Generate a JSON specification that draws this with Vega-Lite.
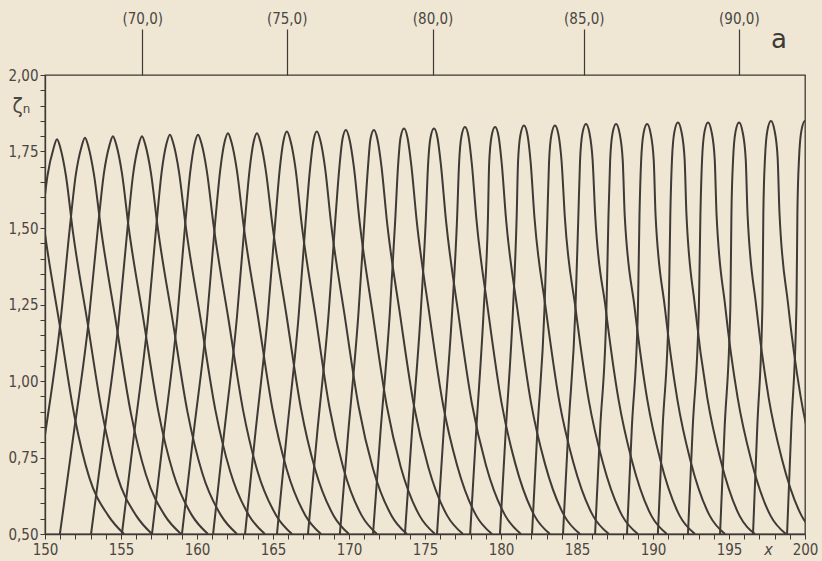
{
"$schema": "https://vega.github.io/schema/vega-lite/v6.json",
"width": 760, "height": 459,
"autosize": {"type": "none"},
"padding": {"left": 45, "top": 75, "right": 17, "bottom": 27},
"background": "#efe6d4",
"config": {"view": {"stroke": "#3d3935", "strokeWidth": 1.3}, "font": "DejaVu Sans Condensed"},
"datasets": {
"curves": [
{"c":0,"x":147.88,"y":1.485},{"c":0,"x":148.31,"y":1.665},{"c":0,"x":148.72,"y":1.755},{"c":0,"x":148.95,"y":1.785},{"c":0,"x":149.18,"y":1.755},{"c":0,"x":149.54,"y":1.665},{"c":0,"x":149.99,"y":1.485},{"c":0,"x":150.96,"y":1.185},{"c":0,"x":151.94,"y":0.885},{"c":0,"x":152.91,"y":0.685},{"c":0,"x":154.16,"y":0.56},{"c":0,"x":155.2,"y":0.5},
{"c":1,"x":147.11,"y":0.5},{"c":1,"x":147.98,"y":0.79},{"c":1,"x":149.12,"y":1.19},{"c":1,"x":149.74,"y":1.49},{"c":1,"x":150.16,"y":1.67},{"c":1,"x":150.56,"y":1.76},{"c":1,"x":150.79,"y":1.79},{"c":1,"x":151.02,"y":1.76},{"c":1,"x":151.38,"y":1.67},{"c":1,"x":151.83,"y":1.49},{"c":1,"x":152.8,"y":1.19},{"c":1,"x":153.78,"y":0.89},{"c":1,"x":154.75,"y":0.69},{"c":1,"x":156.0,"y":0.56},{"c":1,"x":157.04,"y":0.5},
{"c":2,"x":149.08,"y":0.5},{"c":2,"x":149.92,"y":0.795},{"c":2,"x":151.02,"y":1.195},{"c":2,"x":151.62,"y":1.495},{"c":2,"x":152.03,"y":1.675},{"c":2,"x":152.4,"y":1.765},{"c":2,"x":152.63,"y":1.795},{"c":2,"x":152.86,"y":1.765},{"c":2,"x":153.22,"y":1.675},{"c":2,"x":153.69,"y":1.495},{"c":2,"x":154.66,"y":1.195},{"c":2,"x":155.65,"y":0.895},{"c":2,"x":156.63,"y":0.695},{"c":2,"x":157.89,"y":0.56},{"c":2,"x":158.95,"y":0.5},
{"c":3,"x":150.98,"y":0.5},{"c":3,"x":151.81,"y":0.8},{"c":3,"x":152.88,"y":1.2},{"c":3,"x":153.48,"y":1.5},{"c":3,"x":153.88,"y":1.68},{"c":3,"x":154.24,"y":1.77},{"c":3,"x":154.47,"y":1.8},{"c":3,"x":154.7,"y":1.77},{"c":3,"x":155.06,"y":1.68},{"c":3,"x":155.51,"y":1.5},{"c":3,"x":156.48,"y":1.2},{"c":3,"x":157.46,"y":0.9},{"c":3,"x":158.43,"y":0.7},{"c":3,"x":159.68,"y":0.56},{"c":3,"x":160.72,"y":0.5},
{"c":4,"x":153.03,"y":0.5},{"c":4,"x":153.82,"y":0.8},{"c":4,"x":154.86,"y":1.2},{"c":4,"x":155.43,"y":1.5},{"c":4,"x":155.81,"y":1.68},{"c":4,"x":156.15,"y":1.77},{"c":4,"x":156.38,"y":1.8},{"c":4,"x":156.61,"y":1.77},{"c":4,"x":156.97,"y":1.68},{"c":4,"x":157.42,"y":1.5},{"c":4,"x":158.39,"y":1.2},{"c":4,"x":159.37,"y":0.9},{"c":4,"x":160.34,"y":0.7},{"c":4,"x":161.59,"y":0.56},{"c":4,"x":162.63,"y":0.5},
{"c":5,"x":155.06,"y":0.5},{"c":5,"x":155.81,"y":0.805},{"c":5,"x":156.78,"y":1.205},{"c":5,"x":157.32,"y":1.505},{"c":5,"x":157.68,"y":1.685},{"c":5,"x":157.99,"y":1.775},{"c":5,"x":158.22,"y":1.805},{"c":5,"x":158.45,"y":1.775},{"c":5,"x":158.81,"y":1.685},{"c":5,"x":159.26,"y":1.505},{"c":5,"x":160.23,"y":1.205},{"c":5,"x":161.21,"y":0.905},{"c":5,"x":162.18,"y":0.705},{"c":5,"x":163.43,"y":0.56},{"c":5,"x":164.47,"y":0.5},
{"c":6,"x":157.04,"y":0.5},{"c":6,"x":157.76,"y":0.805},{"c":6,"x":158.7,"y":1.205},{"c":6,"x":159.21,"y":1.505},{"c":6,"x":159.56,"y":1.685},{"c":6,"x":159.84,"y":1.775},{"c":6,"x":160.07,"y":1.805},{"c":6,"x":160.3,"y":1.775},{"c":6,"x":160.65,"y":1.685},{"c":6,"x":161.1,"y":1.505},{"c":6,"x":162.06,"y":1.205},{"c":6,"x":163.03,"y":0.905},{"c":6,"x":163.98,"y":0.705},{"c":6,"x":165.22,"y":0.56},{"c":6,"x":166.25,"y":0.5},
{"c":7,"x":159.01,"y":0.5},{"c":7,"x":159.73,"y":0.81},{"c":7,"x":160.67,"y":1.21},{"c":7,"x":161.18,"y":1.51},{"c":7,"x":161.53,"y":1.69},{"c":7,"x":161.81,"y":1.78},{"c":7,"x":162.04,"y":1.81},{"c":7,"x":162.27,"y":1.78},{"c":7,"x":162.62,"y":1.69},{"c":7,"x":163.06,"y":1.51},{"c":7,"x":164.01,"y":1.21},{"c":7,"x":164.96,"y":0.91},{"c":7,"x":165.91,"y":0.71},{"c":7,"x":167.14,"y":0.56},{"c":7,"x":168.16,"y":0.5},
{"c":8,"x":161.06,"y":0.5},{"c":8,"x":161.74,"y":0.81},{"c":8,"x":162.63,"y":1.21},{"c":8,"x":163.13,"y":1.51},{"c":8,"x":163.46,"y":1.69},{"c":8,"x":163.72,"y":1.78},{"c":8,"x":163.95,"y":1.81},{"c":8,"x":164.18,"y":1.78},{"c":8,"x":164.52,"y":1.69},{"c":8,"x":164.96,"y":1.51},{"c":8,"x":165.9,"y":1.21},{"c":8,"x":166.84,"y":0.91},{"c":8,"x":167.78,"y":0.71},{"c":8,"x":168.99,"y":0.56},{"c":8,"x":170.0,"y":0.5},
{"c":9,"x":163.16,"y":0.5},{"c":9,"x":163.81,"y":0.815},{"c":9,"x":164.66,"y":1.215},{"c":9,"x":165.14,"y":1.515},{"c":9,"x":165.45,"y":1.695},{"c":9,"x":165.69,"y":1.785},{"c":9,"x":165.92,"y":1.815},{"c":9,"x":166.15,"y":1.785},{"c":9,"x":166.48,"y":1.695},{"c":9,"x":166.88,"y":1.515},{"c":9,"x":167.79,"y":1.215},{"c":9,"x":168.71,"y":0.915},{"c":9,"x":169.63,"y":0.715},{"c":9,"x":170.84,"y":0.56},{"c":9,"x":171.84,"y":0.5},
{"c":10,"x":165.26,"y":0.5},{"c":10,"x":165.88,"y":0.815},{"c":10,"x":166.69,"y":1.215},{"c":10,"x":167.14,"y":1.515},{"c":10,"x":167.44,"y":1.695},{"c":10,"x":167.66,"y":1.785},{"c":10,"x":167.89,"y":1.815},{"c":10,"x":168.12,"y":1.785},{"c":10,"x":168.43,"y":1.695},{"c":10,"x":168.82,"y":1.515},{"c":10,"x":169.71,"y":1.215},{"c":10,"x":170.64,"y":0.915},{"c":10,"x":171.57,"y":0.715},{"c":10,"x":172.8,"y":0.56},{"c":10,"x":173.81,"y":0.5},
{"c":11,"x":167.3,"y":0.5},{"c":11,"x":167.89,"y":0.82},{"c":11,"x":168.66,"y":1.22},{"c":11,"x":169.09,"y":1.52},{"c":11,"x":169.37,"y":1.7},{"c":11,"x":169.57,"y":1.79},{"c":11,"x":169.8,"y":1.82},{"c":11,"x":170.03,"y":1.79},{"c":11,"x":170.32,"y":1.7},{"c":11,"x":170.7,"y":1.52},{"c":11,"x":171.56,"y":1.22},{"c":11,"x":172.48,"y":0.92},{"c":11,"x":173.4,"y":0.72},{"c":11,"x":174.64,"y":0.56},{"c":11,"x":175.66,"y":0.5},
{"c":12,"x":169.4,"y":0.5},{"c":12,"x":169.93,"y":0.82},{"c":12,"x":170.62,"y":1.22},{"c":12,"x":171.01,"y":1.52},{"c":12,"x":171.25,"y":1.7},{"c":12,"x":171.41,"y":1.79},{"c":12,"x":171.64,"y":1.82},{"c":12,"x":171.87,"y":1.79},{"c":12,"x":172.14,"y":1.7},{"c":12,"x":172.5,"y":1.52},{"c":12,"x":173.35,"y":1.22},{"c":12,"x":174.27,"y":0.92},{"c":12,"x":175.21,"y":0.72},{"c":12,"x":176.46,"y":0.56},{"c":12,"x":177.5,"y":0.5},
{"c":13,"x":171.58,"y":0.5},{"c":13,"x":172.06,"y":0.825},{"c":13,"x":172.69,"y":1.225},{"c":13,"x":173.04,"y":1.525},{"c":13,"x":173.23,"y":1.705},{"c":13,"x":173.39,"y":1.795},{"c":13,"x":173.62,"y":1.825},{"c":13,"x":173.85,"y":1.795},{"c":13,"x":174.1,"y":1.705},{"c":13,"x":174.45,"y":1.525},{"c":13,"x":175.27,"y":1.225},{"c":13,"x":176.18,"y":0.925},{"c":13,"x":177.11,"y":0.725},{"c":13,"x":178.37,"y":0.56},{"c":13,"x":179.41,"y":0.5},
{"c":14,"x":173.68,"y":0.5},{"c":14,"x":174.13,"y":0.825},{"c":14,"x":174.72,"y":1.225},{"c":14,"x":175.05,"y":1.525},{"c":14,"x":175.2,"y":1.705},{"c":14,"x":175.36,"y":1.795},{"c":14,"x":175.59,"y":1.825},{"c":14,"x":175.82,"y":1.795},{"c":14,"x":176.05,"y":1.705},{"c":14,"x":176.38,"y":1.525},{"c":14,"x":177.18,"y":1.225},{"c":14,"x":178.09,"y":0.925},{"c":14,"x":179.01,"y":0.725},{"c":14,"x":180.28,"y":0.56},{"c":14,"x":181.31,"y":0.5},
{"c":15,"x":175.79,"y":0.5},{"c":15,"x":176.22,"y":0.83},{"c":15,"x":176.79,"y":1.23},{"c":15,"x":177.11,"y":1.53},{"c":15,"x":177.24,"y":1.71},{"c":15,"x":177.4,"y":1.8},{"c":15,"x":177.63,"y":1.83},{"c":15,"x":177.86,"y":1.8},{"c":15,"x":178.08,"y":1.71},{"c":15,"x":178.38,"y":1.53},{"c":15,"x":179.15,"y":1.23},{"c":15,"x":180.03,"y":0.93},{"c":15,"x":180.94,"y":0.73},{"c":15,"x":182.2,"y":0.56},{"c":15,"x":183.22,"y":0.5},
{"c":16,"x":177.97,"y":0.5},{"c":16,"x":178.36,"y":0.83},{"c":16,"x":178.86,"y":1.23},{"c":16,"x":179.14,"y":1.53},{"c":16,"x":179.22,"y":1.71},{"c":16,"x":179.38,"y":1.8},{"c":16,"x":179.61,"y":1.83},{"c":16,"x":179.84,"y":1.8},{"c":16,"x":180.05,"y":1.71},{"c":16,"x":180.33,"y":1.53},{"c":16,"x":181.09,"y":1.23},{"c":16,"x":181.97,"y":0.93},{"c":16,"x":182.89,"y":0.73},{"c":16,"x":184.16,"y":0.56},{"c":16,"x":185.2,"y":0.5},
{"c":17,"x":179.93,"y":0.5},{"c":17,"x":180.31,"y":0.835},{"c":17,"x":180.79,"y":1.235},{"c":17,"x":181.03,"y":1.535},{"c":17,"x":181.12,"y":1.715},{"c":17,"x":181.28,"y":1.805},{"c":17,"x":181.51,"y":1.835},{"c":17,"x":181.74,"y":1.805},{"c":17,"x":181.95,"y":1.715},{"c":17,"x":182.2,"y":1.535},{"c":17,"x":182.95,"y":1.235},{"c":17,"x":183.83,"y":0.935},{"c":17,"x":184.75,"y":0.735},{"c":17,"x":186.05,"y":0.56},{"c":17,"x":187.1,"y":0.5},
{"c":18,"x":182.04,"y":0.5},{"c":18,"x":182.39,"y":0.835},{"c":18,"x":182.86,"y":1.235},{"c":18,"x":183.05,"y":1.535},{"c":18,"x":183.16,"y":1.715},{"c":18,"x":183.32,"y":1.805},{"c":18,"x":183.55,"y":1.835},{"c":18,"x":183.78,"y":1.805},{"c":18,"x":183.99,"y":1.715},{"c":18,"x":184.2,"y":1.535},{"c":18,"x":184.91,"y":1.235},{"c":18,"x":185.78,"y":0.935},{"c":18,"x":186.69,"y":0.735},{"c":18,"x":187.97,"y":0.56},{"c":18,"x":189.01,"y":0.5},
{"c":19,"x":184.08,"y":0.5},{"c":19,"x":184.43,"y":0.84},{"c":19,"x":184.9,"y":1.24},{"c":19,"x":185.09,"y":1.54},{"c":19,"x":185.2,"y":1.72},{"c":19,"x":185.36,"y":1.81},{"c":19,"x":185.59,"y":1.84},{"c":19,"x":185.82,"y":1.81},{"c":19,"x":186.03,"y":1.72},{"c":19,"x":186.2,"y":1.54},{"c":19,"x":186.88,"y":1.24},{"c":19,"x":187.73,"y":0.94},{"c":19,"x":188.61,"y":0.74},{"c":19,"x":189.89,"y":0.56},{"c":19,"x":190.92,"y":0.5},
{"c":20,"x":186.19,"y":0.5},{"c":20,"x":186.52,"y":0.84},{"c":20,"x":186.94,"y":1.24},{"c":20,"x":187.07,"y":1.54},{"c":20,"x":187.18,"y":1.72},{"c":20,"x":187.34,"y":1.81},{"c":20,"x":187.57,"y":1.84},{"c":20,"x":187.8,"y":1.81},{"c":20,"x":188.01,"y":1.72},{"c":20,"x":188.14,"y":1.54},{"c":20,"x":188.79,"y":1.24},{"c":20,"x":189.62,"y":0.94},{"c":20,"x":190.49,"y":0.74},{"c":20,"x":191.75,"y":0.56},{"c":20,"x":192.77,"y":0.5},
{"c":21,"x":188.29,"y":0.5},{"c":21,"x":188.6,"y":0.84},{"c":21,"x":189.01,"y":1.24},{"c":21,"x":189.11,"y":1.54},{"c":21,"x":189.22,"y":1.72},{"c":21,"x":189.38,"y":1.81},{"c":21,"x":189.61,"y":1.84},{"c":21,"x":189.84,"y":1.81},{"c":21,"x":190.05,"y":1.72},{"c":21,"x":190.17,"y":1.54},{"c":21,"x":190.78,"y":1.24},{"c":21,"x":191.6,"y":0.94},{"c":21,"x":192.46,"y":0.74},{"c":21,"x":193.73,"y":0.56},{"c":21,"x":194.74,"y":0.5},
{"c":22,"x":190.32,"y":0.5},{"c":22,"x":190.63,"y":0.845},{"c":22,"x":191.04,"y":1.245},{"c":22,"x":191.14,"y":1.545},{"c":22,"x":191.25,"y":1.725},{"c":22,"x":191.41,"y":1.815},{"c":22,"x":191.64,"y":1.845},{"c":22,"x":191.87,"y":1.815},{"c":22,"x":192.08,"y":1.725},{"c":22,"x":192.2,"y":1.545},{"c":22,"x":192.76,"y":1.245},{"c":22,"x":193.57,"y":0.945},{"c":22,"x":194.43,"y":0.745},{"c":22,"x":195.69,"y":0.56},{"c":22,"x":196.71,"y":0.5},
{"c":23,"x":192.3,"y":0.5},{"c":23,"x":192.61,"y":0.845},{"c":23,"x":193.02,"y":1.245},{"c":23,"x":193.12,"y":1.545},{"c":23,"x":193.23,"y":1.725},{"c":23,"x":193.39,"y":1.815},{"c":23,"x":193.62,"y":1.845},{"c":23,"x":193.85,"y":1.815},{"c":23,"x":194.06,"y":1.725},{"c":23,"x":194.18,"y":1.545},{"c":23,"x":194.75,"y":1.245},{"c":23,"x":195.57,"y":0.945},{"c":23,"x":196.44,"y":0.745},{"c":23,"x":197.73,"y":0.56},{"c":23,"x":198.75,"y":0.5},
{"c":24,"x":194.41,"y":0.5},{"c":24,"x":194.71,"y":0.845},{"c":24,"x":195.09,"y":1.245},{"c":24,"x":195.16,"y":1.545},{"c":24,"x":195.27,"y":1.725},{"c":24,"x":195.43,"y":1.815},{"c":24,"x":195.66,"y":1.845},{"c":24,"x":195.89,"y":1.815},{"c":24,"x":196.1,"y":1.725},{"c":24,"x":196.22,"y":1.545},{"c":24,"x":196.79,"y":1.245},{"c":24,"x":197.61,"y":0.945},{"c":24,"x":198.48,"y":0.745},{"c":24,"x":199.77,"y":0.56},{"c":24,"x":200.79,"y":0.5},
{"c":25,"x":196.58,"y":0.5},{"c":25,"x":196.86,"y":0.85},{"c":25,"x":197.2,"y":1.25},{"c":25,"x":197.26,"y":1.55},{"c":25,"x":197.37,"y":1.73},{"c":25,"x":197.53,"y":1.82},{"c":25,"x":197.76,"y":1.85},{"c":25,"x":197.99,"y":1.82},{"c":25,"x":198.2,"y":1.73},{"c":25,"x":198.32,"y":1.55},{"c":25,"x":198.89,"y":1.25},{"c":25,"x":199.71,"y":0.95},{"c":25,"x":200.58,"y":0.75},{"c":25,"x":201.87,"y":0.56},{"c":25,"x":202.89,"y":0.5},
{"c":26,"x":198.82,"y":0.5},{"c":26,"x":199.1,"y":0.85},{"c":26,"x":199.44,"y":1.25},{"c":26,"x":199.5,"y":1.55},{"c":26,"x":199.61,"y":1.73},{"c":26,"x":199.77,"y":1.82},{"c":26,"x":200.0,"y":1.85},{"c":26,"x":200.23,"y":1.82},{"c":26,"x":200.44,"y":1.73},{"c":26,"x":200.56,"y":1.55},{"c":26,"x":201.13,"y":1.25}
],
"tag": [{"x": 198.29, "y": 2.114, "t": "a"}]
},
"layer": [
{
"data": {"name": "curves"},
"mark": {"type": "line", "interpolate": "monotone", "clip": true, "color": "#3e3a35", "strokeWidth": 2},
"encoding": {
"x": {"field": "x", "type": "quantitative", "scale": {"domain": [150, 200], "nice": false, "zero": false},
"axis": {"orient": "bottom", "values": [150,151,152,153,154,155,156,157,158,159,160,161,162,163,164,165,166,167,168,169,170,171,172,173,174,175,176,177,178,179,180,181,182,183,184,185,186,187,188,189,190,191,192,193,194,195,196,197,198,199,200],
"labelExpr": "datum.value % 5 === 0 ? datum.label : ''", "labelOverlap": false, "labelFlush": false, "grid": false,
"tickSize": 5, "tickColor": "#3d3935", "domainColor": "#3d3935", "domainWidth": 1.3, "labelColor": "#4a4642", "labelFontSize": 15, "labelPadding": 3,
"title": "x", "titleFontStyle": "italic", "titleFontWeight": "normal", "titleFontSize": 16, "titleColor": "#4a4642", "titleX": 723, "titleY": 15, "titleBaseline": "middle", "titleAlign": "center"}},
"y": {"field": "y", "type": "quantitative", "scale": {"domain": [0.5, 2.0], "nice": false, "zero": false},
"axis": {"orient": "left", "values": [0.5,0.55,0.6,0.65,0.7,0.75,0.8,0.85,0.9,0.95,1,1.05,1.1,1.15,1.2,1.25,1.3,1.35,1.4,1.45,1.5,1.55,1.6,1.65,1.7,1.75,1.8,1.85,1.9,1.95,2],
"labelExpr": "abs(datum.value*4 - round(datum.value*4)) < 0.01 ? replace(format(datum.value, '.2f'), '.', ',') : ''", "labelOverlap": false, "labelFlush": false, "grid": false,
"tickSize": 5, "tickColor": "#3d3935", "domainColor": "#3d3935", "domainWidth": 1.3, "labelColor": "#4a4642", "labelFontSize": 15, "labelPadding": 2,
"title": "ζₙ", "titleAngle": 0, "titleFontSize": 21, "titleFontWeight": "normal", "titleColor": "#4a4642", "titleX": -24, "titleY": 31, "titleAlign": "center", "titleBaseline": "middle"}},
"detail": {"field": "c", "type": "nominal"}
}
},
{
"data": {"name": "tag"},
"mark": {"type": "text", "clip": false, "fontSize": 26, "font": "DejaVu Sans", "color": "#3e3a35"},
"encoding": {
"x": {"field": "x", "type": "quantitative", "scale": {"domain": [150, 200], "nice": false, "zero": false},
"axis": {"orient": "top", "values": [156.4, 165.9, 175.5, 185.45, 195.65],
"labelExpr": "datum.value < 160 ? '(70,0)' : datum.value < 170 ? '(75,0)' : datum.value < 180 ? '(80,0)' : datum.value < 190 ? '(85,0)' : '(90,0)'",
"labelOverlap": false, "labelFlush": false, "grid": false, "domain": false, "tickSize": 46, "tickColor": "#3d3935", "tickWidth": 1.2, "labelColor": "#4a4642", "labelFontSize": 15, "labelPadding": 3, "title": null}},
"y": {"field": "y", "type": "quantitative", "scale": {"domain": [0.5, 2.0], "nice": false, "zero": false}, "axis": null},
"text": {"field": "t"}
}
}
],
"resolve": {"axis": {"x": "independent", "y": "independent"}}
}
